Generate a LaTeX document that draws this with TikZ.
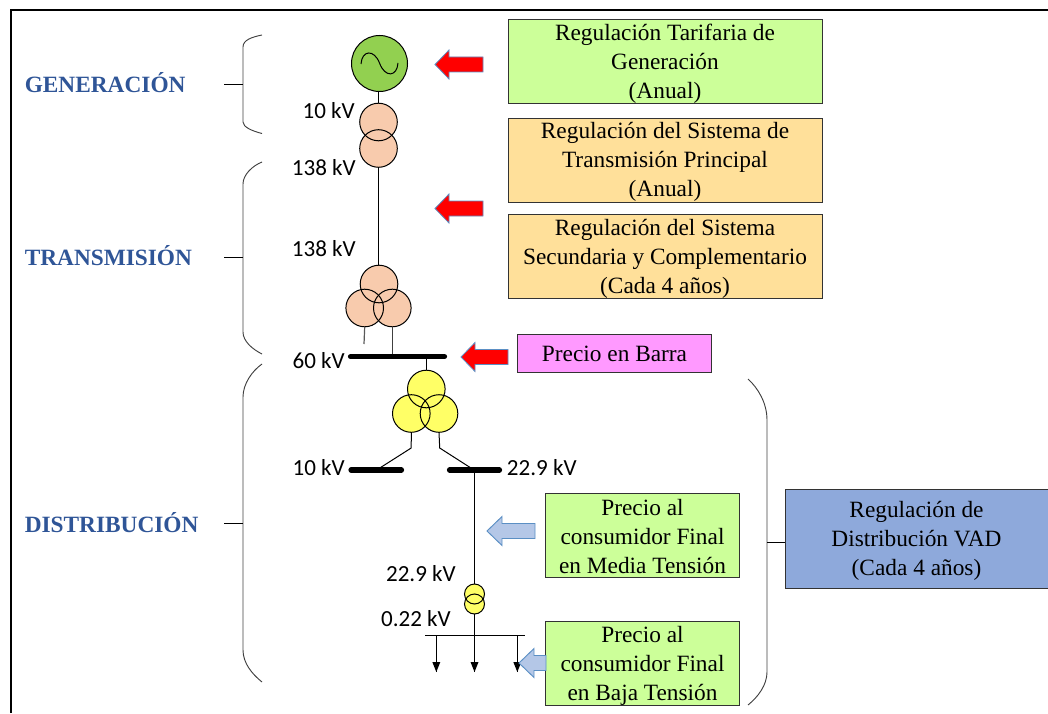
\documentclass[tikz,border=0pt]{standalone}
\usepackage{fontspec}
\setmainfont{Liberation Serif}
\newfontfamily\volt{Carlito}
\definecolor{genfill}{HTML}{92D050}
\definecolor{peach}{HTML}{F8CBAD}
\definecolor{yel}{HTML}{FFFF66}
\definecolor{lime}{HTML}{CCFF99}
\definecolor{sand}{HTML}{FFE09A}
\definecolor{pinkb}{HTML}{FF99FF}
\definecolor{vad}{HTML}{8EA9DB}
\definecolor{labelblue}{HTML}{2F5597}
\definecolor{arrowedge}{HTML}{5B8FC4}
\definecolor{lightarrow}{HTML}{B4C7E7}
\newcommand{\blkarrow}[5]{%
  \draw[#1] (#2,#5) -- (#3,#5-14.5) -- (#3,#5-7.5) -- (#4,#5-7.5) -- (#4,#5+7.5) -- (#3,#5+7.5) -- (#3,#5+14.5) -- cycle;}
\tikzset{
  x=0.75pt,y=-0.75pt,
  wire/.style={draw=black,line width=0.75pt},
  thinwire/.style={draw=black,line width=0.6pt},
  busbar/.style={draw=black,line width=3.9pt,line cap=round},
  brace/.style={draw=black!75,line width=0.7pt},
  textdrop/.style={execute at begin node={\rule{0pt}{#1}}},
  infobox/.style={draw=black!80,line width=0.7pt,inner sep=0pt,align=center,
    font=\fontsize{17.5}{21.75}\selectfont},
  threeline/.style={infobox,textdrop=58.5pt},
  sectionlabel/.style={anchor=west,inner sep=0pt,text=labelblue,
    font=\fontsize{17.5}{21}\selectfont\bfseries},
  voltlabel/.style={inner sep=0pt,font=\volt\fontsize{17.3}{21}\selectfont},
  winding/.style={circle,inner sep=0pt,draw=none},
  ring/.style={circle,inner sep=0pt,draw=black,line width=0.75pt,fill=none},
  redarrow/.style={fill=red,draw=arrowedge,line width=0.6pt,line join=miter},
  bluearrow/.style={fill=lightarrow,draw=arrowedge,line width=0.7pt,line join=miter},
  load/.style={draw=black,line width=0.75pt},
}
\begin{document}
\begin{tikzpicture}
\useasboundingbox (0,0) rectangle (1048,713);
% frame
\draw[black,line width=0.8pt] (11,713) -- (11,10) -- (1048,10);

% section labels
\node[sectionlabel] (lgen) at (24.5,83) {GENERACIÓN};
\node[sectionlabel] (ltra) at (24.5,256) {TRANSMISIÓN};
\node[sectionlabel] (ldis) at (24.5,522.5) {DISTRIBUCIÓN};

% braces
\coordinate (sgen) at (224,84); \coordinate (bgen) at (243,84);
\coordinate (stra) at (224,257.5); \coordinate (btra) at (243,257.5);
\coordinate (sdis) at (224,523); \coordinate (bdis) at (243,523);
\draw[brace] (262,35) .. controls (252,37) and (243,40) .. (243,47) -- (bgen) -- (243,122) .. controls (243,127) and (252,131) .. (262,133.5);
\draw[brace] (262,162) .. controls (252,166) and (243,175) .. (243,184) -- (btra) -- (243,332) .. controls (243,341) and (252,349) .. (262,354);
\draw[brace] (262,364) .. controls (252,371) and (243,384) .. (243,397) -- (bdis) -- (243,650) .. controls (243,663) and (252,674) .. (262,682);
\draw[thinwire] (sgen) -- (bgen);
\draw[thinwire] (stra) -- (btra);
\draw[thinwire] (sdis) -- (bdis);

% generator and transformer 1
\node[winding,fill=peach,minimum size=28.2pt] (t1a) at (378.5,122) {};
\node[winding,fill=peach,minimum size=28.2pt] (t1b) at (378.5,148.5) {};
\node[ring,fill=genfill,minimum size=42pt] (gen) at (379.5,63.5) {};
\node[ring,minimum size=28.2pt] at (t1a) {};
\node[ring,minimum size=28.2pt] at (t1b) {};
\draw[wire] (361,64) .. controls (362,50) and (374,49) .. (379.5,63) .. controls (385,78) and (397,77) .. (398,63);
\draw[wire] (gen.south -| t1a) -- (t1a.north);

% transformer 2
\node[winding,fill=peach,minimum size=28.2pt] (t2a) at (379,284) {};
\node[winding,fill=peach,minimum size=28.2pt] (t2b) at (364.7,308) {};
\node[winding,fill=peach,minimum size=28.2pt] (t2c) at (392.3,308) {};
\node[ring,minimum size=28.2pt] at (t2a) {};
\node[ring,minimum size=28.2pt] at (t2b) {};
\node[ring,minimum size=28.2pt] at (t2c) {};
\draw[wire] (t1b.south) -- (t1b.south |- t2a.north);

% 60 kV bus
\coordinate (b60l) at (350.5,356.7); \coordinate (b60r) at (444.5,356.7);
\coordinate (t2lead) at (364,344);
\draw[draw=black!65,line width=0.9pt] (t2b.south) -- (t2lead);
\draw[draw=black!75,line width=0.9pt] (t2c.south) -- (t2c.south |- b60l);
\draw[busbar] (b60l) -- (b60r);

% transformer 3
\node[winding,fill=yel,minimum size=28.2pt] (t3a) at (426.3,389) {};
\node[winding,fill=yel,minimum size=28.2pt] (t3b) at (411.3,413.5) {};
\node[winding,fill=yel,minimum size=28.2pt] (t3c) at (439,413.5) {};
\node[ring,minimum size=28.2pt] at (t3a) {};
\node[ring,minimum size=28.2pt] at (t3b) {};
\node[ring,minimum size=28.2pt] at (t3c) {};
\draw[wire] (t3a.north) -- (t3a.north |- b60l);

% 10 kV and 22.9 kV buses
\coordinate (b10l) at (351,470); \coordinate (b10r) at (401.5,470);
\coordinate (b23l) at (449.5,470); \coordinate (b23r) at (499.5,470);
\coordinate (b10t) at (379,468.5); \coordinate (b23t) at (471.7,468.5);
\coordinate (kneeL) at (411.2,448); \coordinate (kneeR) at (439.7,448);
\draw[wire] (t3b.south) -- (kneeL) -- (b10t);
\draw[wire] (t3c.south) -- (kneeR) -- (b23t);
\draw[busbar] (b10l) -- (b10r);
\draw[busbar] (b23l) -- (b23r);

% transformer 4
\node[winding,fill=yel,minimum size=15pt] (t4a) at (474.5,594) {};
\node[winding,fill=yel,minimum size=15pt] (t4b) at (474.5,604) {};
\node[ring,minimum size=15pt] at (t4a) {};
\node[ring,minimum size=15pt] at (t4b) {};
\draw[wire] (t4a.north |- b23t) -- (t4a.north);

% low voltage bus and loads
\coordinate (lvl) at (425,635); \coordinate (lvr) at (525,635);
\coordinate (la) at (436.3,635); \coordinate (lb) at (474.5,635); \coordinate (lc) at (517.3,635);
\coordinate (lae) at (436.3,672); \coordinate (lbe) at (474.5,672); \coordinate (lce) at (517.3,672);
\draw[wire] (lvl) -- (lvr);
\draw[wire] (t4b.south) -- (lb);
\draw[load] (la) -- (lae);
\draw[load] (lb) -- (lbe);
\draw[load] (lc) -- (lce);
\fill[black] (432.3,662) -- (440.3,662) -- (lae) -- cycle;
\fill[black] (470.5,662) -- (478.5,662) -- (lbe) -- cycle;
\fill[black] (513.3,662) -- (521.3,662) -- (lce) -- cycle;

% voltage labels
\node[voltlabel,anchor=east] (v1) at (355,110.5) {10 kV};
\node[voltlabel,anchor=east] (v2) at (356,168) {138 kV};
\node[voltlabel,anchor=east] (v3) at (356,249) {138 kV};
\node[voltlabel,anchor=east] (v4) at (345,361) {60 kV};
\node[voltlabel,anchor=east] (v5) at (345,468) {10 kV};
\node[voltlabel,anchor=west] (v6) at (506.7,468) {22.9 kV};
\node[voltlabel,anchor=east] (v7) at (456,574) {22.9 kV};
\node[voltlabel,anchor=east] (v8) at (451,619) {0.22 kV};

% info boxes
\node[threeline,fill=lime,minimum width=235.5pt,minimum height=63pt] (rgen) at (665,61.5) {Regulación Tarifaria de\\Generación\\(Anual)};
\node[threeline,fill=sand,minimum width=235.5pt,minimum height=63pt] (rtp) at (665,160) {Regulación del Sistema de\\Transmisión Principal\\(Anual)};
\node[threeline,fill=sand,minimum width=235.5pt,minimum height=63pt] (rts) at (665,256.5) {Regulación del Sistema\\Secundaria y Complementario\\(Cada 4 años)};
\node[infobox,textdrop=12.6pt,fill=pinkb,minimum width=145.5pt,minimum height=28.5pt] (pb) at (614.5,353) {Precio en Barra};
\node[threeline,fill=lime,minimum width=146pt,minimum height=63pt] (pmt) at (642.5,535) {Precio al\\consumidor Final\\en Media Tensión};
\node[threeline,fill=lime,minimum width=146pt,minimum height=63pt] (pbt) at (642.5,663.5) {Precio al\\consumidor Final\\en Baja Tensión};
\node[threeline,fill=vad,minimum width=197.25pt,minimum height=74.25pt] (rvad) at (916.5,538.5) {Regulación de\\Distribución VAD\\(Cada 4 años)};

% right brace
\coordinate (bvad) at (767,542);
\draw[brace] (748,379) .. controls (758,388) and (767,403) .. (767,420) -- (bvad) -- (767,672) .. controls (767,685) and (758,697) .. (748,705);
\draw[thinwire] (bvad) -- (rvad.west |- bvad);

% block arrows
\blkarrow{redarrow}{435}{449}{483}{64.5}
\blkarrow{redarrow}{435}{449}{483}{208.5}
\blkarrow{redarrow}{461}{475}{508}{357}
\blkarrow{bluearrow}{487}{502}{535}{531}
\blkarrow{bluearrow}{519}{534}{546}{663}
\end{tikzpicture}
\end{document}
